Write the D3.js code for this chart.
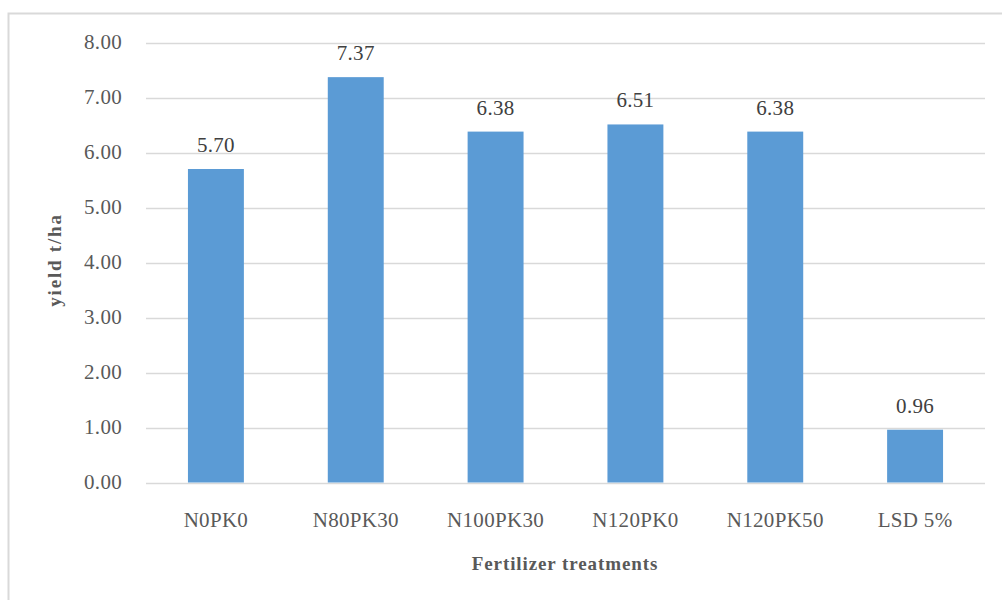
<!DOCTYPE html>
<html>
<head>
<meta charset="utf-8">
<script src="https://cdn.jsdelivr.net/npm/d3@7"></script>
<style>
  html, body { margin: 0; padding: 0; background: #fff; }
</style>
</head>
<body>
<svg id="chart" width="1002" height="600"></svg>
<script>
// Grain yield by fertilizer treatment (t/ha)
const categories = ["N0PK0", "N80PK30", "N100PK30", "N120PK0", "N120PK50", "LSD 5%"];
const values = [5.70, 7.37, 6.38, 6.51, 6.38, 0.96];
const tickValues = [0, 1, 2, 3, 4, 5, 6, 7, 8];

const FONT = "'Liberation Serif', 'Times New Roman', serif";
const INK = "#595959";

const svg = d3.select("#chart");

// outer frame
svg.append("rect")
  .attr("x", 8.5).attr("y", 13.5)
  .attr("width", 1010).attr("height", 620)
  .attr("fill", "none").attr("stroke", "#d9d9d9").attr("stroke-width", 2);

const plot = { left: 146, right: 985, top: 42.5, bottom: 482.5 };

const x = d3.scaleBand()
  .domain(categories)
  .range([plot.left, plot.right])
  .paddingInner(0.6)
  .paddingOuter(0.3);

const y = d3.scaleLinear()
  .domain([0, 8])
  .range([plot.bottom, plot.top]);

// horizontal gridlines
svg.append("g")
  .selectAll("line")
  .data(tickValues)
  .join("line")
  .attr("x1", plot.left).attr("x2", plot.right)
  .attr("y1", d => Math.round(y(d)) + 0.5)
  .attr("y2", d => Math.round(y(d)) + 0.5)
  .attr("stroke", "#d9d9d9").attr("stroke-width", 1.3);

// y tick labels
svg.append("g")
  .selectAll("text")
  .data(tickValues)
  .join("text")
  .attr("x", 122)
  .attr("y", d => y(d))
  .attr("dy", "0.33em")
  .attr("text-anchor", "end")
  .attr("font-family", FONT)
  .attr("fill", INK)
  .attr("font-size", 21)
  .attr("letter-spacing", 0.3)
  .text(d => d3.format(".2f")(d));

// bars
svg.append("g")
  .selectAll("rect")
  .data(values)
  .join("rect")
  .attr("x", (d, i) => x(categories[i]))
  .attr("width", x.bandwidth())
  .attr("y", d => y(d))
  .attr("height", d => y(0) - y(d))
  .attr("fill", "#5b9bd5");

// value labels
svg.append("g")
  .selectAll("text")
  .data(values)
  .join("text")
  .attr("x", (d, i) => x(categories[i]) + x.bandwidth() / 2)
  .attr("y", d => y(d) - 24)
  .attr("dy", "0.33em")
  .attr("text-anchor", "middle")
  .attr("font-family", FONT)
  .attr("fill", "#404040")
  .attr("font-size", 21)
  .attr("letter-spacing", 0.3)
  .text(d => d3.format(".2f")(d));

// category labels
svg.append("g")
  .selectAll("text")
  .data(categories)
  .join("text")
  .attr("x", d => x(d) + x.bandwidth() / 2)
  .attr("y", 520)
  .attr("dy", "0.33em")
  .attr("text-anchor", "middle")
  .attr("font-family", FONT)
  .attr("fill", INK)
  .attr("font-size", 21)
  .attr("letter-spacing", 0.3)
  .text(d => d);

// axis titles
svg.append("text")
  .attr("x", 565).attr("y", 564)
  .attr("dy", "0.33em")
  .attr("text-anchor", "middle")
  .attr("font-family", FONT)
  .attr("fill", INK)
  .attr("font-size", 19)
  .attr("font-weight", "bold")
  .attr("letter-spacing", 0.9)
  .text("Fertilizer treatments");

svg.append("text")
  .attr("transform", "translate(55,260) rotate(-90)")
  .attr("dy", "0.33em")
  .attr("text-anchor", "middle")
  .attr("font-family", FONT)
  .attr("fill", INK)
  .attr("font-size", 19)
  .attr("font-weight", "bold")
  .attr("letter-spacing", 1.8)
  .text("yield t/ha");
</script>
</body>
</html>
